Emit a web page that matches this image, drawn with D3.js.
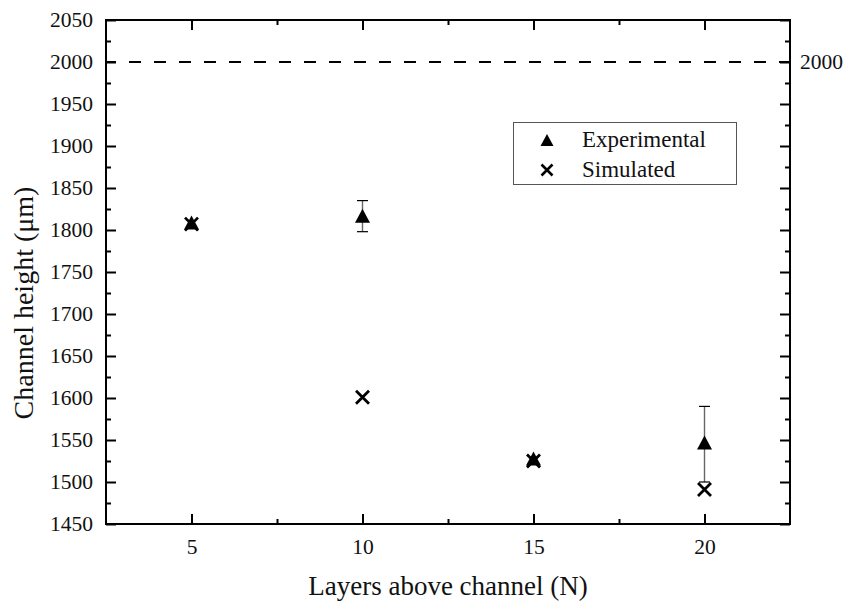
<!DOCTYPE html>
<html>
<head>
<meta charset="utf-8">
<script src="https://cdn.jsdelivr.net/npm/d3@7"></script>
<style>
  body { margin: 0; background: #fff; }
  svg { display: block; }
  svg text { font-family: "Liberation Serif", "Times New Roman", serif !important; }
</style>
</head>
<body>
<svg id="chart" width="846" height="603"></svg>
<script>
// data
var layers = [5, 10, 15, 20];
var experimental = [1809, 1817, 1528, 1547];
var expErrPlus = [null, 18, null, 43];
var expErrMinus = [null, 19, null, 47];
var simulated = [1807, 1601, 1525, 1491];
var designHeight = 2000;
var xTicks = [5, 10, 15, 20];
var xMinor = [7.5, 12.5, 17.5];
var yTicks = [1450, 1500, 1550, 1600, 1650, 1700, 1750, 1800, 1850, 1900, 1950, 2000, 2050];
var yMinor = [1475, 1525, 1575, 1625, 1675, 1725, 1775, 1825, 1875, 1925, 1975, 2025];

var plotL = 106, plotR = 790, plotT = 20, plotB = 524;

var svg = d3.select("#chart");
var x = d3.scaleLinear().domain([2.5, 22.5]).range([plotL, plotR]);
var y = d3.scaleLinear().domain([1450, 2050]).range([plotB, plotT]);

// dashed reference line
svg.append("line")
  .attr("x1", x(2.5)).attr("x2", x(22.5))
  .attr("y1", y(designHeight)).attr("y2", y(designHeight))
  .attr("stroke", "#000").attr("stroke-width", 2.2)
  .attr("stroke-dasharray", "12,13").attr("stroke-dashoffset", 2);

function styleAxis(g) {
  g.select(".domain").remove();
  g.selectAll(".tick line").attr("stroke", "#000").attr("stroke-width", 2);
  g.selectAll(".tick text").attr("fill", "#111").style("font-size", "21.5px");
}

// left axis
svg.append("g").attr("transform", "translate(" + plotL + ",0)")
  .call(d3.axisLeft(y).tickValues(yTicks).tickSize(-10).tickPadding(13).tickFormat(d3.format("d")))
  .call(styleAxis);
svg.append("g").attr("transform", "translate(" + plotL + ",0)")
  .call(d3.axisLeft(y).tickValues(yMinor).tickSize(-5).tickFormat(""))
  .call(styleAxis);

// right axis, only 2000 labelled
svg.append("g").attr("transform", "translate(" + plotR + ",0)")
  .call(d3.axisRight(y).tickValues(yTicks).tickSize(-10).tickPadding(10)
    .tickFormat(function(d) { return d === designHeight ? String(d) : ""; }))
  .call(styleAxis);
svg.append("g").attr("transform", "translate(" + plotR + ",0)")
  .call(d3.axisRight(y).tickValues(yMinor).tickSize(-5).tickFormat(""))
  .call(styleAxis);

// bottom axis
svg.append("g").attr("transform", "translate(0," + plotB + ")")
  .call(d3.axisBottom(x).tickValues(xTicks).tickSize(-10).tickPadding(15))
  .call(styleAxis);
svg.append("g").attr("transform", "translate(0," + plotB + ")")
  .call(d3.axisBottom(x).tickValues(xMinor).tickSize(-5).tickFormat(""))
  .call(styleAxis);

// top axis
svg.append("g").attr("transform", "translate(0," + plotT + ")")
  .call(d3.axisTop(x).tickValues(xTicks).tickSize(-10).tickFormat(""))
  .call(styleAxis);
svg.append("g").attr("transform", "translate(0," + plotT + ")")
  .call(d3.axisTop(x).tickValues(xMinor).tickSize(-5).tickFormat(""))
  .call(styleAxis);

// frame
svg.append("rect")
  .attr("x", plotL).attr("y", plotT)
  .attr("width", plotR - plotL).attr("height", plotB - plotT)
  .attr("fill", "none").attr("stroke", "#000").attr("stroke-width", 2);

// error bars
var errs = layers.map(function(l, i) {
    return { x: l, hi: experimental[i] + expErrPlus[i], lo: experimental[i] - expErrMinus[i], ok: expErrPlus[i] != null };
  }).filter(function(d) { return d.ok; });
var eb = svg.append("g");
eb.selectAll(".stem").data(errs).enter().append("line")
  .attr("x1", function(d) { return x(d.x); }).attr("x2", function(d) { return x(d.x); })
  .attr("y1", function(d) { return y(d.hi); }).attr("y2", function(d) { return y(d.lo); })
  .attr("stroke", "#666").attr("stroke-width", 1.4);
eb.selectAll(".capTop").data(errs).enter().append("line")
  .attr("x1", function(d) { return x(d.x) - 5.5; }).attr("x2", function(d) { return x(d.x) + 5.5; })
  .attr("y1", function(d) { return y(d.hi); }).attr("y2", function(d) { return y(d.hi); })
  .attr("stroke", "#000").attr("stroke-width", 1.2);
eb.selectAll(".capBot").data(errs).enter().append("line")
  .attr("x1", function(d) { return x(d.x) - 5.5; }).attr("x2", function(d) { return x(d.x) + 5.5; })
  .attr("y1", function(d) { return y(d.lo); }).attr("y2", function(d) { return y(d.lo); })
  .attr("stroke", "#000").attr("stroke-width", 1.2);

function triPath(cx, cy, w, h) {
  return "M" + (cx - w / 2) + "," + (cy + h / 2) + "L" + cx + "," + (cy - h / 2) +
    "L" + (cx + w / 2) + "," + (cy + h / 2) + "Z";
}
function crossPath(cx, cy, s) {
  return "M" + (cx - s) + "," + (cy - s) + "L" + (cx + s) + "," + (cy + s) +
    "M" + (cx - s) + "," + (cy + s) + "L" + (cx + s) + "," + (cy - s);
}

// simulated (x markers)
svg.append("g").selectAll("path").data(simulated).enter().append("path")
  .attr("d", function(d, i) { return crossPath(x(layers[i]), y(d), 6.5); })
  .attr("fill", "none").attr("stroke", "#000").attr("stroke-width", 2.8);

// experimental (triangles)
svg.append("g").selectAll("path").data(experimental).enter().append("path")
  .attr("d", function(d, i) { return triPath(x(layers[i]), y(d), 15, 14); })
  .attr("fill", "#000");

// legend
var lg = svg.append("g");
lg.append("rect").attr("x", 513.5).attr("y", 122.5).attr("width", 223).attr("height", 62)
  .attr("fill", "#fff").attr("stroke", "#555").attr("stroke-width", 1);
lg.append("path").attr("d", triPath(547, 140, 13, 12)).attr("fill", "#000");
lg.append("path").attr("d", crossPath(547, 170, 5.5)).attr("fill", "none")
  .attr("stroke", "#000").attr("stroke-width", 2.6);
lg.append("text").attr("x", 582).attr("y", 147).style("font-size", "23px").attr("fill", "#111").text("Experimental");
lg.append("text").attr("x", 582).attr("y", 177).style("font-size", "23px").attr("fill", "#111").text("Simulated");

// axis titles
svg.append("text").attr("x", 448).attr("y", 595).attr("text-anchor", "middle")
  .style("font-size", "27px").attr("fill", "#111").text("Layers above channel (N)");
svg.append("text").attr("transform", "translate(33,303) rotate(-90)").attr("text-anchor", "middle")
  .style("font-size", "28px").attr("fill", "#111").text("Channel height (μm)");
</script>
</body>
</html>
